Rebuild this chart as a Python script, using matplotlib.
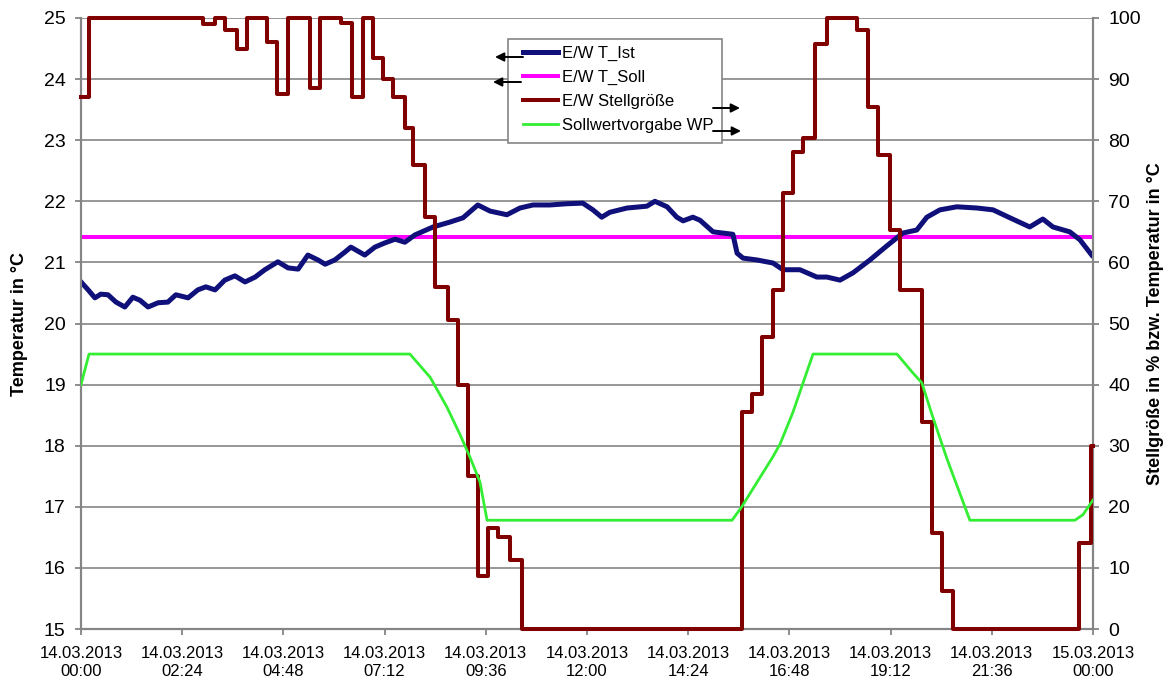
import matplotlib
matplotlib.use('Agg')
import matplotlib.pyplot as plt
from matplotlib.patches import Rectangle

plt.rcParams['font.family'] = ['Liberation Sans', 'DejaVu Sans']

# Zeit in Stunden ab 14.03.2013 00:00
ist_t = [0.00, 0.17, 0.33, 0.47, 0.64, 0.83, 1.04, 1.23, 1.40, 1.59, 1.83, 2.06, 2.25, 2.54,
         2.77, 2.96, 3.18, 3.41, 3.65, 3.89, 4.13, 4.36, 4.67, 4.91, 5.15, 5.38, 5.62, 5.79,
         6.02, 6.26, 6.40, 6.73, 6.97, 7.21, 7.45, 7.68, 7.92, 8.35, 8.75, 9.06, 9.41, 9.70,
         10.10, 10.41, 10.72, 11.12, 11.52, 11.90, 12.14, 12.35, 12.54, 12.95, 13.42, 13.61,
         13.90, 14.13, 14.28, 14.51, 14.68, 14.99, 15.46, 15.56, 15.70, 16.03, 16.41, 16.65,
         17.05, 17.45, 17.69, 18.00, 18.31, 18.71, 19.11, 19.49, 19.82, 20.06, 20.37, 20.77,
         21.25, 21.63, 22.03, 22.50, 22.81, 23.05, 23.45, 23.69, 23.97]
ist_val = [20.68, 20.55, 20.42, 20.48, 20.47, 20.35, 20.27, 20.43, 20.38, 20.27, 20.34, 20.35,
           20.47, 20.42, 20.55, 20.60, 20.55, 20.71, 20.78, 20.68, 20.76, 20.88, 21.01, 20.91,
           20.89, 21.12, 21.04, 20.97, 21.04, 21.17, 21.25, 21.12, 21.25, 21.32, 21.38, 21.33,
           21.45, 21.58, 21.66, 21.73, 21.94, 21.84, 21.78, 21.89, 21.94, 21.94, 21.96, 21.97,
           21.86, 21.74, 21.82, 21.89, 21.92, 22.00, 21.91, 21.74, 21.68, 21.74, 21.69, 21.50,
           21.46, 21.15, 21.07, 21.04, 20.99, 20.88, 20.88, 20.76, 20.76, 20.71, 20.83, 21.04,
           21.27, 21.48, 21.53, 21.74, 21.86, 21.91, 21.89, 21.86, 21.73, 21.58, 21.71, 21.58,
           21.50, 21.37, 21.12]

soll_t = [0.0, 24.0]
soll_val = [21.42, 21.42]

stell_t = [0.00, 0.19, 2.89, 3.18, 3.41, 3.70, 3.94, 4.41, 4.65, 4.91, 5.43, 5.67, 6.17, 6.43,
           6.69, 6.92, 7.16, 7.40, 7.68, 7.87, 8.16, 8.39, 8.70, 8.94, 9.18, 9.41, 9.65, 9.89,
           10.17, 10.46, 15.67, 15.91, 16.15, 16.41, 16.65, 16.88, 17.12, 17.41, 17.69, 18.40,
           18.66, 18.90, 19.18, 19.42, 19.94, 20.18, 20.42, 20.68, 23.67, 23.95, 24.00]
stell_val = [87, 100, 99, 100, 98, 95, 100, 96, 87.5, 100, 88.5, 100, 99.2, 87,
             100, 93.5, 90, 87, 82, 76, 67.5, 56, 50.5, 40, 25, 8.7, 16.5, 15,
             11.3, 0, 35.5, 38.5, 47.8, 55.5, 71.4, 78, 80.4, 95.7, 100, 98,
             85.4, 77.6, 65.3, 55.5, 33.9, 15.7, 6.2, 0, 14, 30, 30]

wp_t = [0.00, 0.19, 7.80, 8.28, 8.68, 8.99, 9.22, 9.46, 9.63, 15.44, 15.67, 16.03, 16.41, 16.58,
        16.88, 17.36, 19.35, 19.73, 19.94, 20.20, 20.54, 21.08, 23.57, 23.76, 24.00]
wp_val = [40, 45, 45, 41.2, 36.3, 31.8, 28.2, 24.1, 17.8, 17.8, 20, 24, 28.2, 30.3,
          35.4, 45, 45, 41.9, 40.3, 34.7, 27.8, 17.8, 17.8, 18.7, 21.1]

xtick_pos = [i * 2.4 for i in range(11)]
xtick_labels = ['14.03.2013\n00:00', '14.03.2013\n02:24', '14.03.2013\n04:48',
                '14.03.2013\n07:12', '14.03.2013\n09:36', '14.03.2013\n12:00',
                '14.03.2013\n14:24', '14.03.2013\n16:48', '14.03.2013\n19:12',
                '14.03.2013\n21:36', '15.03.2013\n00:00']

W, H = 1171, 680
fig = plt.figure(figsize=(W / 100, H / 100), dpi=100)
ax = fig.add_axes([81 / W, 51 / H, 1012 / W, 611 / H])
ax2 = ax.twinx()

grey = '#858585'

l_ist, = ax.plot(ist_t, ist_val, color='#10107a', lw=3.6, label='E/W T_Ist', zorder=3)
l_soll, = ax.plot(soll_t, soll_val, color='#ff00ff', lw=2.9, label='E/W T_Soll', zorder=2)
l_stell, = ax2.plot(stell_t, stell_val, color='#800000', lw=2.9, drawstyle='steps-post',
                    label='E/W Stellgröße', clip_on=False, zorder=3)
l_wp, = ax2.plot(wp_t, wp_val, color='#33ee33', lw=2.0, label='Sollwertvorgabe WP', zorder=4)

ax.set_xlim(0, 24)
ax.set_ylim(15, 25)
ax2.set_ylim(0, 100)
ax.set_yticks(range(15, 26))
ax2.set_yticks(range(0, 101, 10))
ax.set_xticks(xtick_pos)
ax.set_xticklabels(xtick_labels, fontsize=12, linespacing=1.2)

ax.yaxis.grid(True, color=grey, lw=1.2)
ax.set_axisbelow(True)

for a in (ax, ax2):
    for s in a.spines.values():
        s.set_color(grey)
        s.set_linewidth(1.5)
    a.spines['top'].set_visible(False)
    a.tick_params(colors=grey, labelcolor='black', length=4, width=1.3, direction='out')
ax.tick_params(axis='y', labelsize=14, pad=7)
ax2.tick_params(axis='y', labelsize=14, pad=7)
ax.tick_params(axis='x', pad=8.5)

ax.set_ylabel('Temperatur in °C', fontsize=13, fontweight='bold')
ax.yaxis.set_label_coords(-0.052, 0.5)
ax2.set_ylabel('Stellgröße in % bzw. Temperatur in °C', fontsize=13, fontweight='bold')
ax2.yaxis.set_label_coords(1.053, 0.5)

# Legendenrahmen separat, damit die Abstände frei wählbar sind
box = Rectangle((508 / W, 1 - 143 / H), 214 / W, 104 / H, transform=fig.transFigure,
                facecolor='white', edgecolor=grey, lw=1.2, zorder=8)
ax2.add_artist(box)

leg = ax2.legend(handles=[l_ist, l_soll, l_stell, l_wp], loc='upper left',
                 bbox_to_anchor=(515 / W, 1 - 38 / H), bbox_transform=fig.transFigure,
                 borderaxespad=0, fontsize=12, frameon=False,
                 handlelength=2.1, handletextpad=0.25, labelspacing=0.55, borderpad=0.45)
leg.set_zorder(9)

# Pfeile zur Achsenzuordnung
arrows = [((523, 57), (495, 57)), ((521, 82), (493, 82)),
          ((713, 108), (740, 108)), ((713, 131), (741, 131))]
for (x0, y0), (x1, y1) in arrows:
    ax2.annotate('', xy=(x1 / W, 1 - y1 / H), xytext=(x0 / W, 1 - y0 / H),
                 xycoords='figure fraction', textcoords='figure fraction',
                 arrowprops=dict(arrowstyle='-|>', color='black', lw=1.4,
                                 mutation_scale=13, shrinkA=0, shrinkB=0),
                 zorder=10)

fig.savefig('out.png', dpi=100)
